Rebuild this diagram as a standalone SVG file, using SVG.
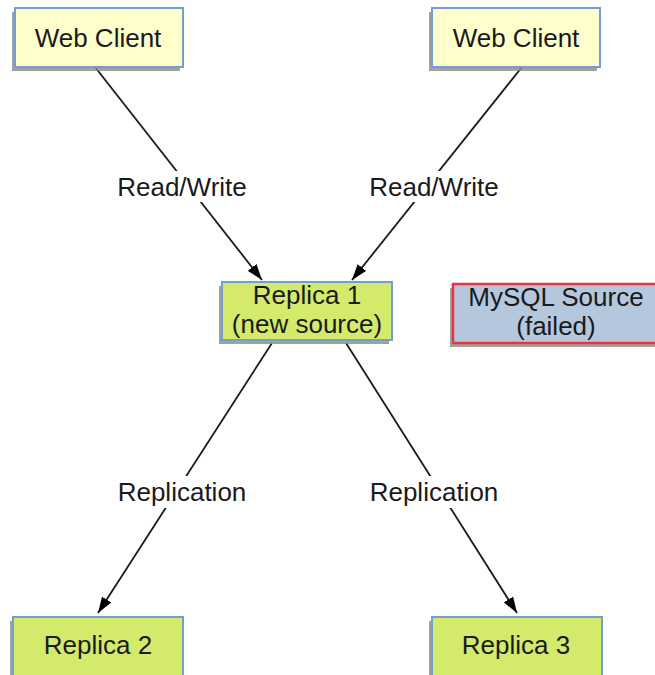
<svg xmlns="http://www.w3.org/2000/svg" width="655" height="675" viewBox="0 0 655 675">
<style>
.sh{fill:#8a8a8a;opacity:0.8}
.client{fill:#ffffcc;stroke:#729fcf;stroke-width:2}
.rep{fill:#d4ea6b;stroke:#729fcf;stroke-width:2}
.failed{fill:#b4c7dc;stroke:#e8343a;stroke-width:2.5}
.t{font-family:"Liberation Sans",Arial,sans-serif;font-size:26px;fill:#1a1a1a;text-anchor:middle}
.ln{stroke:#1a1a1a;stroke-width:1.8;fill:none;marker-end:url(#ah)}
.bg{fill:#ffffff}
</style>
<defs>
<marker id="ah" viewBox="0 0 16 11" refX="16" refY="5.5" markerWidth="16" markerHeight="11" markerUnits="userSpaceOnUse" orient="auto">
<path d="M0,0 L16,5.5 L0,11 Z" fill="#000"/>
</marker>
</defs>
<g id="connectors">
<line class="ln" x1="95" y1="67" x2="262" y2="280"/>
<line class="ln" x1="522" y1="67" x2="352" y2="280"/>
<line class="ln" x1="272" y1="343" x2="98" y2="613"/>
<line class="ln" x1="346" y1="343" x2="517" y2="613"/>
<rect class="bg" x="114" y="171" width="137" height="31"/>
<rect class="bg" x="366" y="171" width="137" height="31"/>
<rect class="bg" x="114" y="476" width="137" height="32"/>
<rect class="bg" x="366" y="476" width="137" height="32"/>
<text class="t" x="182" y="196">Read/Write</text>
<text class="t" x="434" y="196">Read/Write</text>
<text class="t" x="182" y="501">Replication</text>
<text class="t" x="434" y="501">Replication</text>
</g>
<g id="web-client-1">
<rect class="sh" x="12" y="12" width="168" height="59"/>
<rect class="client" x="15" y="8" width="168" height="59"/>
<text class="t" x="98" y="47">Web Client</text>
</g>
<g id="web-client-2">
<rect class="sh" x="429" y="12" width="168" height="59"/>
<rect class="client" x="432" y="8" width="168" height="59"/>
<text class="t" x="516" y="47">Web Client</text>
</g>
<g id="replica-1">
<rect class="sh" x="219" y="286" width="170" height="58"/>
<rect class="rep" x="222" y="282" width="170" height="58"/>
<text class="t" x="307" y="304">Replica 1</text>
<text class="t" x="307" y="333">(new source)</text>
</g>
<g id="mysql-source">
<rect class="sh" x="450" y="288" width="210" height="59"/>
<rect class="failed" x="453" y="284" width="210" height="59"/>
<text class="t" x="556" y="306">MySQL Source</text>
<text class="t" x="556" y="335">(failed)</text>
</g>
<g id="replica-2">
<rect class="sh" x="10" y="621" width="170" height="60"/>
<rect class="rep" x="13" y="617" width="170" height="60"/>
<text class="t" x="98" y="654">Replica 2</text>
</g>
<g id="replica-3">
<rect class="sh" x="429" y="621" width="170" height="60"/>
<rect class="rep" x="432" y="617" width="170" height="60"/>
<text class="t" x="516" y="654">Replica 3</text>
</g>
</svg>
